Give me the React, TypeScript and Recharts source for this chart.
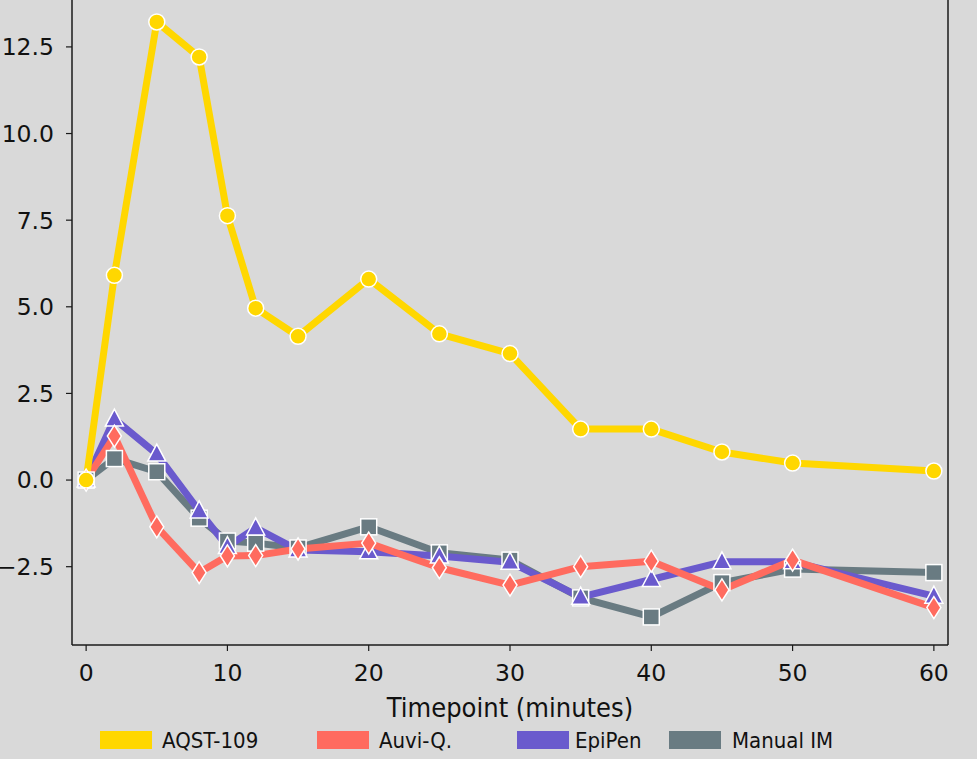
import React from 'react';
import {
  LineChart, Line, XAxis, YAxis, Legend, ReferenceLine,
} from 'recharts';

const timepoints = [0, 2, 5, 8, 10, 12, 15, 20, 25, 30, 35, 40, 45, 50, 60];
const aqst109 = [0, 5.91, 13.22, 12.21, 7.63, 4.96, 4.15, 5.8, 4.22, 3.65, 1.47, 1.47, 0.81, 0.49, 0.26];
const auviQ = [0, 1.27, -1.35, -2.67, -2.19, -2.18, -1.99, -1.82, -2.53, -3.03, -2.5, -2.34, -3.17, -2.31, -3.68];
const epiPen = [0, 1.76, 0.75, -0.89, -1.92, -1.38, -2.02, -2.07, -2.19, -2.37, -3.38, -2.87, -2.36, -2.36, -3.35];
const manualIM = [0, 0.62, 0.24, -1.1, -1.76, -1.82, -1.96, -1.35, -2.1, -2.31, -3.4, -3.95, -2.96, -2.57, -2.67];

const xTicks = [0, 10, 20, 30, 40, 50, 60];
const yTicks = [-2.5, 0, 2.5, 5, 7.5, 10, 12.5];

const seriesNames = ['AQST-109', 'Auvi-Q.', 'EpiPen', 'Manual IM'];
const seriesKeys = ['aqst', 'auvi', 'epi', 'manual'];
const seriesColors = ['#ffd700', '#ff6b5f', '#6a5acd', '#697b82'];

const data = timepoints.map((t, i) => ({
  t,
  aqst: aqst109[i],
  auvi: auviQ[i],
  epi: epiPen[i],
  manual: manualIM[i],
}));

const BG = '#d9d9d9';
const AXIS = '#1a1a1a';
const tickFont = { fontFamily: 'DejaVu Sans', fontSize: 23.5, fill: '#111' };
const labelFont = "'DejaVu Sans Condensed', 'Liberation Sans Narrow', 'Noto Sans', sans-serif";
// legend slot widths
const legendSlots = [217, 200, 152, 180];
const legendGaps = [10, 10, 6, 11];

const makeDot = (shape: string, color: string) => (props: any) => {
  const { cx, cy, index } = props;
  if (cx == null || cy == null) return <g key={index} />;
  const common = { fill: color, stroke: '#fff', strokeWidth: 1.5 };
  if (shape === 'circle') return <circle key={index} cx={cx} cy={cy} r={8} {...common} />;
  if (shape === 'square') return <rect key={index} x={cx - 8} y={cy - 8} width={16} height={16} {...common} />;
  if (shape === 'triangle') {
    return <polygon key={index} points={`${cx},${cy - 10} ${cx - 9},${cy + 7} ${cx + 9},${cy + 7}`} {...common} />;
  }
  return <polygon key={index} points={`${cx},${cy - 11} ${cx + 7},${cy} ${cx},${cy + 11} ${cx - 7},${cy}`} {...common} />;
};

const shapes = ['circle', 'diamond', 'triangle', 'square'];

function LegendRow() {
  return (
    <div style={{ display: 'flex', alignItems: 'center', height: 24, fontFamily: labelFont, fontSize: 22, color: '#111' }}>
      {seriesNames.map((n, i) => (
        <div key={n} style={{ display: 'flex', alignItems: 'center', width: legendSlots[i] }}>
          <span style={{ width: 52, height: 18, background: seriesColors[i], marginRight: legendGaps[i], display: 'inline-block' }} />
          <span>{n}</span>
        </div>
      ))}
    </div>
  );
}

const fmt = (v: number) => v.toFixed(1).replace('-', '\u2212');

export default function App() {
  // draw order: last legend entry at the bottom, AQST-109 on top
  const order = [3, 2, 1, 0];
  return (
    <div style={{ position: 'absolute', left: 0, top: -20, width: 977, height: 779, background: BG }}>
      <LineChart width={977} height={779} data={data} margin={{ top: 8, right: 29, bottom: 18, left: 12 }}>
        <XAxis
          dataKey="t"
          type="number"
          domain={[-1, 61]}
          ticks={xTicks}
          allowDataOverflow
          height={72}
          tick={tickFont}
          tickSize={6}
          tickMargin={13}
          axisLine={{ stroke: AXIS, strokeWidth: 1.5 }}
          tickLine={{ stroke: AXIS, strokeWidth: 1.2 }}
          label={{ value: 'Timepoint (minutes)', position: 'insideBottom', offset: 0, style: { fontFamily: labelFont, fontSize: 27, fill: '#111' } }}
        />
        <YAxis
          type="number"
          domain={[-4.76, 14.2]}
          ticks={yTicks}
          allowDataOverflow
          width={60}
          tick={tickFont}
          tickSize={6}
          tickMargin={12}
          tickFormatter={fmt}
          axisLine={{ stroke: AXIS, strokeWidth: 1.5 }}
          tickLine={{ stroke: AXIS, strokeWidth: 1.2 }}
        />
        <ReferenceLine x={61} stroke={AXIS} strokeWidth={1.5} />
        {order.map((i) => (
          <Line
            key={seriesKeys[i]}
            type="linear"
            dataKey={seriesKeys[i]}
            name={seriesNames[i]}
            stroke={seriesColors[i]}
            strokeWidth={7}
            strokeLinejoin="round"
            dot={makeDot(shapes[i], seriesColors[i])}
            isAnimationActive={false}
          />
        ))}
        <Legend
          verticalAlign="bottom"
          content={<LegendRow />}
          wrapperStyle={{ left: 100, top: 748, width: 860 }}
        />
      </LineChart>
    </div>
  );
}
